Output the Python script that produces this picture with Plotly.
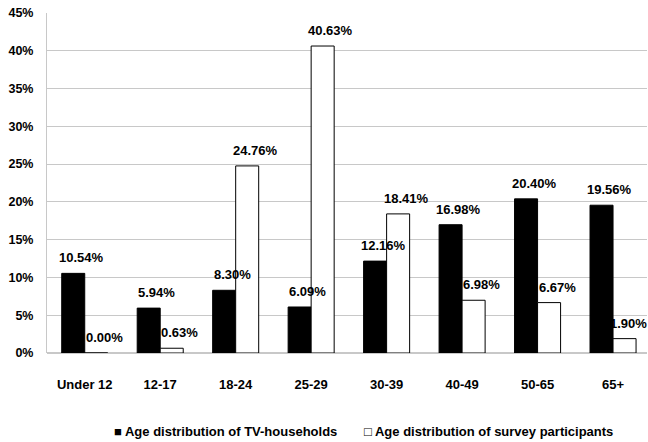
import plotly.graph_objects as go

categories = ["Under 12", "12-17", "18-24", "25-29", "30-39", "40-49", "50-65", "65+"]
tv_households = [10.54, 5.94, 8.30, 6.09, 12.16, 16.98, 20.40, 19.56]
survey_participants = [0.00, 0.63, 24.76, 40.63, 18.41, 6.98, 6.67, 1.90]
series_names = ["Age distribution of TV-households", "Age distribution of survey participants"]
y_ticks = [0, 5, 10, 15, 20, 25, 30, 35, 40, 45]
y_tick_labels = [f"{v}%" for v in y_ticks]

fam = "Liberation Sans, Arial, sans-serif"

fig = go.Figure()
fig.add_trace(go.Bar(x=categories, y=tv_households, name=series_names[0],
                     marker=dict(color="black", line=dict(color="black", width=1))))
fig.add_trace(go.Bar(x=categories, y=survey_participants, name=series_names[1],
                     marker=dict(color="white", line=dict(color="black", width=1))))

annotations = []
n = len(categories)
for i, c in enumerate(categories):
    for vals, off in ((tv_households, -11.5), (survey_participants, 11.5)):
        shift = off + 8
        if i == n - 1 and off > 0:
            shift -= 4  # keep the last label inside the page
        annotations.append(dict(x=i, y=vals[i], xref="x", yref="y", text=f"{vals[i]:.2f}%",
                                showarrow=False, yanchor="bottom", xshift=shift, yshift=6,
                                font=dict(family=fam, size=13, color="black", weight="bold")))

# legend drawn as text entries (Excel-style small square markers)
for sym, name, px in (("■", series_names[0], 112), ("□", series_names[1], 362)):
    annotations.append(dict(x=(px - 47) / 600, y=(353 - 431) / 340, xref="paper", yref="paper",
                            text=f"{sym} {name}", showarrow=False, xanchor="left", yanchor="middle",
                            font=dict(family=fam, size=13, color="black", weight="bold")))

fig.update_layout(
    width=648, height=442,
    margin=dict(l=47, r=1, t=13, b=89, autoexpand=False),
    plot_bgcolor="white", paper_bgcolor="white",
    barmode="group", bargap=0.39, bargroupgap=0,
    font=dict(family=fam, size=12, color="black", weight="bold"),
    annotations=annotations,
    showlegend=False,
    xaxis=dict(range=[-0.5, 7.45], autorange=False, automargin=False,
               tickfont=dict(family=fam, size=13, color="black", weight="bold"),
               showline=False, ticks="", ticklabelstandoff=22),
    yaxis=dict(range=[0, 45], tickvals=y_ticks, ticktext=y_tick_labels, automargin=False,
               showgrid=True, gridcolor="#c8c8c8", gridwidth=1, zeroline=True, zerolinecolor="#c8c8c8",
               showline=True, linecolor="#c8c8c8", ticks="", ticklabelstandoff=10,
               tickfont=dict(family=fam, size=12.5, color="black", weight="bold")),
)
fig.write_html("out.html", config={"displayModeBar": False},
               post_script="document.body.style.margin='0';document.body.style.overflow='hidden';")
